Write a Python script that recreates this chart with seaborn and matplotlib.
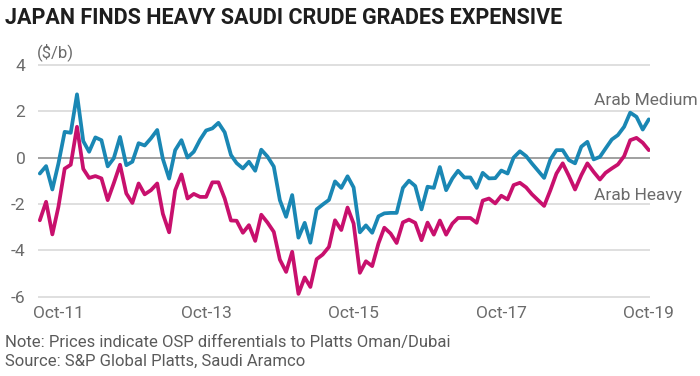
import pandas as pd
import matplotlib
matplotlib.use('Agg')
import matplotlib.pyplot as plt
import seaborn as sns

# monthly OSP differentials ($/b), Jul-11 .. Oct-19
months = pd.date_range('2011-07-01', periods=100, freq='MS')

arab_medium = [
    -0.68, -0.36, -1.37, -0.25, 1.12, 1.08, 2.74, 0.72, 0.26, 0.88,
    0.76, -0.37, -0.02, 0.90, -0.32, -0.17, 0.63, 0.53, 0.84, 1.20,
    -0.05, -0.90, 0.33, 0.76, 0.01, 0.26, 0.78, 1.18, 1.27, 1.51,
    1.10, 0.12, -0.23, -0.46, -0.17, -0.56, 0.35, 0.05, -0.38, -1.83,
    -2.55, -1.61, -3.45, -2.81, -3.67, -2.23, -2.02, -1.82, -1.02, -1.30,
    -0.80, -1.28, -3.22, -2.92, -3.24, -2.53, -2.40, -2.38, -2.38, -1.30,
    -0.99, -1.22, -2.23, -1.25, -1.30, -0.40, -1.40, -0.89, -0.56, -0.85,
    -0.85, -1.30, -0.65, -0.89, -0.88, -0.55, -0.68, 0.01, 0.28, 0.07,
    -0.24, -0.56, -0.87, -0.07, 0.33, 0.33, -0.10, -0.24, 0.48, 0.69,
    -0.07, 0.04, 0.40, 0.79, 0.98, 1.34, 1.95, 1.77, 1.22, 1.66,
]

arab_heavy = [
    -2.70, -1.90, -3.31, -2.12, -0.47, -0.30, 1.34, -0.48, -0.87, -0.79,
    -0.89, -1.83, -1.10, -0.30, -1.54, -1.95, -1.11, -1.58, -1.40, -1.11,
    -2.42, -3.22, -1.40, -0.72, -1.76, -1.56, -1.69, -1.69, -1.06, -1.06,
    -1.76, -2.71, -2.72, -3.24, -2.91, -3.59, -2.46, -2.80, -3.20, -4.40,
    -4.93, -4.06, -5.88, -5.17, -5.58, -4.38, -4.18, -3.85, -2.70, -3.12,
    -2.15, -2.84, -4.97, -4.47, -4.68, -3.70, -3.02, -3.27, -3.68, -2.79,
    -2.67, -2.81, -3.56, -2.80, -3.32, -2.71, -3.32, -2.84, -2.60, -2.60,
    -2.60, -2.81, -1.85, -1.76, -1.97, -1.64, -1.80, -1.18, -1.08, -1.28,
    -1.57, -1.83, -2.08, -1.40, -0.68, -0.24, -0.79, -1.37, -0.75, -0.24,
    -0.61, -0.94, -0.65, -0.46, -0.29, 0.07, 0.76, 0.86, 0.65, 0.33,
]

tick_dates = pd.to_datetime(['2011-10-01', '2013-10-01', '2015-10-01', '2017-10-01', '2019-10-01'])
tick_labels = ['Oct-11', 'Oct-13', 'Oct-15', 'Oct-17', 'Oct-19']
y_ticks = [-6, -4, -2, 0, 2, 4]

df = pd.DataFrame({'month': months, 'Arab Medium': arab_medium, 'Arab Heavy': arab_heavy})
long_df = df.melt(id_vars='month', var_name='grade', value_name='diff')

sns.set_style('white')
plt.rcParams['font.family'] = ['Roboto', 'DejaVu Sans']
plt.rcParams['axes.unicode_minus'] = False

text_gray = '#6b6b6b'
colors = {'Arab Medium': '#1a87b4', 'Arab Heavy': '#c8106d'}

fig = plt.figure(figsize=(7, 3.76), dpi=100)
ax = fig.add_axes([0.054, 0.2048, 0.874, 0.628])

sns.lineplot(data=long_df, x='month', y='diff', hue='grade', palette=colors,
             linewidth=2.7, legend=False, ax=ax, zorder=3)

ax.set_xlim(pd.Timestamp('2011-06-21'), pd.Timestamp('2019-10-05'))
ax.set_ylim(-6.1, 4.1)
ax.set_yticks(y_ticks)
ax.set_xticks(tick_dates)
ax.set_xticklabels(tick_labels)
ax.set_xlabel('')
ax.set_ylabel('')

ax.yaxis.grid(True, color='#dcdcdc', linewidth=1.3)
ax.xaxis.grid(False)
ax.axhline(0, color='#9c9c9c', linewidth=1.3, zorder=2)
for s in ax.spines.values():
    s.set_visible(False)
ax.tick_params(axis='both', length=0, labelsize=12.5, colors=text_gray)
ax.tick_params(axis='y', pad=9)
ax.tick_params(axis='x', pad=5)

# series labels
ax.text(pd.Timestamp('2019-01-01'), 2.49, 'Arab Medium', fontsize=12.5,
        color=text_gray, va='center', ha='left')
ax.text(pd.Timestamp('2019-01-01'), -1.64, 'Arab Heavy', fontsize=12.5,
        color=text_gray, va='center', ha='left')

fig.text(0.053, 0.862, '($/b)', fontsize=12, color=text_gray, va='center', ha='left')

fig.text(0.007, 0.952, 'JAPAN FINDS HEAVY SAUDI CRUDE GRADES EXPENSIVE',
         fontsize=15.5, fontweight='bold', color='#1e1e1e', va='center', ha='left')

fig.text(0.007, 0.088, 'Note: Prices indicate OSP differentials to Platts Oman/Dubai',
         fontsize=12, color='#5a5a5a', va='center', ha='left')
fig.text(0.007, 0.040, 'Source: S&P Global Platts, Saudi Aramco',
         fontsize=12, color='#5a5a5a', va='center', ha='left')

fig.savefig('out.png', dpi=100)
